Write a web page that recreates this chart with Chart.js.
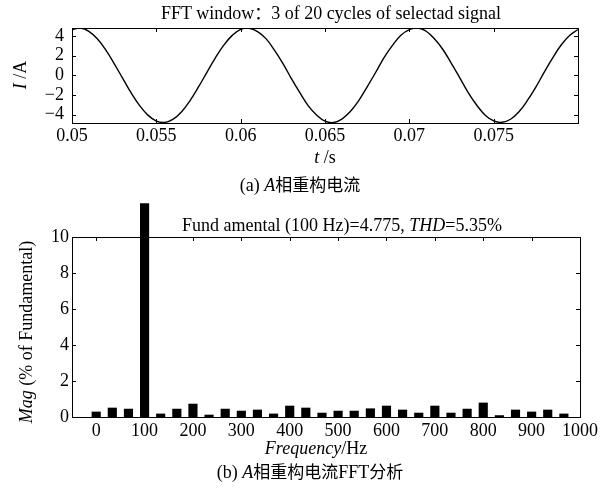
<!DOCTYPE html>
<html>
<head>
<meta charset="utf-8">
<script src="https://cdn.jsdelivr.net/npm/chart.js@4"></script>
<style>
    body { margin: 0; background: #fff; }
    #wrap { position: relative; width: 601px; height: 488px; overflow: hidden; }
    canvas { position: absolute; left: 0; }
    .txt {
        position: absolute;
        transform: translate(-50%, -50%);
        white-space: nowrap;
        font-family: "Liberation Serif", "Noto Sans CJK SC", serif;
        font-size: 18px;
        color: #000;
        line-height: 1;
    }
    .rot { transform: translate(-50%, -50%) rotate(-90deg); }
    .cjk { font-family: "Noto Sans CJK SC", sans-serif; font-size: 17px; }
    i { font-style: italic; }
</style>
</head>
<body>
<div id="wrap">
    <canvas id="chart-wave" width="601" height="190" style="top:0"></canvas>
    <canvas id="chart-fft" width="601" height="298" style="top:190px"></canvas>

    <div class="txt" style="left:331px; top:12px">FFT window<span class="cjk">：</span>3 of 20 cycles of selectad signal</div>
    <div class="txt rot" style="left:20px; top:75px"><i>I</i> /A</div>
    <div class="txt" style="left:325px; top:157px"><i>t</i> /s</div>
    <div class="txt" style="left:300px; top:184px">(a) <i>A</i><span class="cjk">相重构电流</span></div>

    <div class="txt" style="left:342px; top:225px">Fund amental (100 Hz)=4.775, <i>THD</i>=5.35%</div>
    <div class="txt rot" style="left:26px; top:332px"><i>Mag</i> (% of Fundamental)</div>
    <div class="txt" style="left:316px; top:448px"><i>Frequency</i>/Hz</div>
    <div class="txt" style="left:310px; top:471px">(b) <i>A</i><span class="cjk">相重构电流</span>FFT<span class="cjk">分析</span></div>
</div>

<script>
// (a) reconstructed phase A current, every 0.5 ms
const timeS = [
    0.05, 0.0505, 0.051, 0.0515, 0.052, 0.0525, 0.053, 0.0535, 0.054, 0.0545,
    0.055, 0.0555, 0.056, 0.0565, 0.057, 0.0575, 0.058, 0.0585, 0.059, 0.0595,
    0.06, 0.0605, 0.061, 0.0615, 0.062, 0.0625, 0.063, 0.0635, 0.064, 0.0645,
    0.065, 0.0655, 0.066, 0.0665, 0.067, 0.0675, 0.068, 0.0685, 0.069, 0.0695,
    0.07, 0.0705, 0.071, 0.0715, 0.072, 0.0725, 0.073, 0.0735, 0.074, 0.0745,
    0.075, 0.0755, 0.076, 0.0765, 0.077, 0.0775, 0.078, 0.0785, 0.079, 0.0795,
    0.08,
];
const currentA = [
    4.65, 4.79, 4.46, 3.70, 2.57, 1.19, -0.30, -1.77, -3.06, -4.05,
    -4.65, -4.79, -4.46, -3.70, -2.57, -1.19, 0.30, 1.77, 3.06, 4.05,
    4.66, 4.78, 4.44, 3.72, 2.55, 1.21, -0.32, -1.75, -3.08, -4.03,
    -4.66, -4.80, -4.45, -3.69, -2.58, -1.17, 0.28, 1.79, 3.04, 4.06,
    4.64, 4.79, 4.47, 3.68, 2.59, 1.18, -0.29, -1.78, -3.05, -4.06,
    -4.64, -4.78, -4.47, -3.71, -2.56, -1.20, 0.31, 1.76, 3.07, 4.04,
    4.65,
];
const waveXTicks = [0.05, 0.055, 0.06, 0.065, 0.07, 0.075];
const waveYTicks = [-4, -2, 0, 2, 4];

// (b) FFT of the 3-cycle window, 33.3 Hz resolution
const freqHz = [
    0, 33.3, 66.7, 100, 133.3, 166.7, 200, 233.3, 266.7, 300,
    333.3, 366.7, 400, 433.3, 466.7, 500, 533.3, 566.7, 600, 633.3,
    666.7, 700, 733.3, 766.7, 800, 833.3, 866.7, 900, 933.3, 966.7,
];
const magPct = [
    0.28, 0.50, 0.44, 11.85, 0.17, 0.44, 0.72, 0.11, 0.44, 0.33,
    0.39, 0.17, 0.61, 0.50, 0.22, 0.33, 0.33, 0.46, 0.61, 0.39,
    0.22, 0.61, 0.22, 0.44, 0.78, 0.08, 0.39, 0.28, 0.39, 0.17,
];
const fftXTicks = [0, 100, 200, 300, 400, 500, 600, 700, 800, 900, 1000];
const fftYTicks = [0, 2, 4, 6, 8, 10];

Chart.defaults.font.family = '"Liberation Serif", serif';
Chart.defaults.font.size = 18;
Chart.defaults.color = "#000";

function minus(v) {
    return v < 0 ? "\u2212" + Math.abs(v) : String(v);
}

// matlab style box with inward ticks on every side
const boxPlugin = {
    id: "box",
    afterDraw(chart) {
        const { ctx, chartArea: a, scales } = chart;
        const len = 4;
        ctx.save();
        ctx.strokeStyle = "#000";
        ctx.lineWidth = 1;
        ctx.strokeRect(a.left + 0.5, a.top + 0.5, a.right - a.left, a.bottom - a.top);
        ctx.beginPath();
        for (const t of scales.x.ticks) {
            const px = Math.round(scales.x.getPixelForValue(t.value)) + 0.5;
            ctx.moveTo(px, a.bottom);
            ctx.lineTo(px, a.bottom - len);
            ctx.moveTo(px, a.top);
            ctx.lineTo(px, a.top + len);
        }
        for (const t of scales.y.ticks) {
            const py = Math.round(scales.y.getPixelForValue(t.value)) + 0.5;
            ctx.moveTo(a.left, py);
            ctx.lineTo(a.left + len, py);
            ctx.moveTo(a.right, py);
            ctx.lineTo(a.right - len, py);
        }
        ctx.stroke();
        ctx.restore();
    },
};

function fixedTicks(values) {
    return (scale) => {
        scale.ticks = values.map((v) => ({ value: v }));
    };
}

const noGrid = { display: false, drawTicks: false, tickLength: 0 };

new Chart(document.getElementById("chart-wave"), {
    type: "line",
    data: {
        datasets: [
            {
                data: timeS.map((t, i) => ({ x: t, y: currentA[i] })),
                borderColor: "#000",
                borderWidth: 1.4,
                pointRadius: 0,
                tension: 0.4,
                fill: false,
            },
        ],
    },
    options: {
        responsive: false,
        animation: false,
        layout: { padding: { left: 0, right: 23, top: 28, bottom: 0 } },
        plugins: { legend: { display: false }, tooltip: { enabled: false } },
        scales: {
            x: {
                type: "linear",
                min: 0.05,
                max: 0.08,
                afterBuildTicks: fixedTicks(waveXTicks),
                afterFit: (s) => { s.height = 67; },
                grid: noGrid,
                border: { display: false },
                ticks: { padding: 2, maxRotation: 0, autoSkip: false, callback: (v) => String(v) },
            },
            y: {
                min: -4.85,
                max: 4.8,
                afterBuildTicks: fixedTicks(waveYTicks),
                afterFit: (s) => { s.width = 72; },
                grid: noGrid,
                border: { display: false },
                ticks: { padding: 8, autoSkip: false, callback: minus },
            },
        },
    },
    plugins: [boxPlugin],
});

new Chart(document.getElementById("chart-fft"), {
    type: "bar",
    data: {
        datasets: [
            {
                data: freqHz.map((f, i) => ({ x: f, y: magPct[i] })),
                backgroundColor: "#000",
                borderWidth: 0,
                barThickness: 8.5,
                clip: false,
            },
        ],
    },
    options: {
        responsive: false,
        animation: false,
        layout: { padding: { left: 0, right: 20, top: 47, bottom: 0 } },
        plugins: { legend: { display: false }, tooltip: { enabled: false } },
        scales: {
            x: {
                type: "linear",
                offset: false,
                min: -50,
                max: 1000,
                afterBuildTicks: fixedTicks(fftXTicks),
                afterFit: (s) => { s.height = 71; },
                grid: noGrid,
                border: { display: false },
                ticks: { padding: 3, maxRotation: 0, autoSkip: false, callback: (v) => String(v) },
            },
            y: {
                min: 0,
                max: 10,
                afterBuildTicks: fixedTicks(fftYTicks),
                afterFit: (s) => { s.width = 72; },
                grid: noGrid,
                border: { display: false },
                ticks: { padding: 3, autoSkip: false, callback: (v) => String(v) },
            },
        },
    },
    plugins: [boxPlugin],
});
</script>
</body>
</html>
